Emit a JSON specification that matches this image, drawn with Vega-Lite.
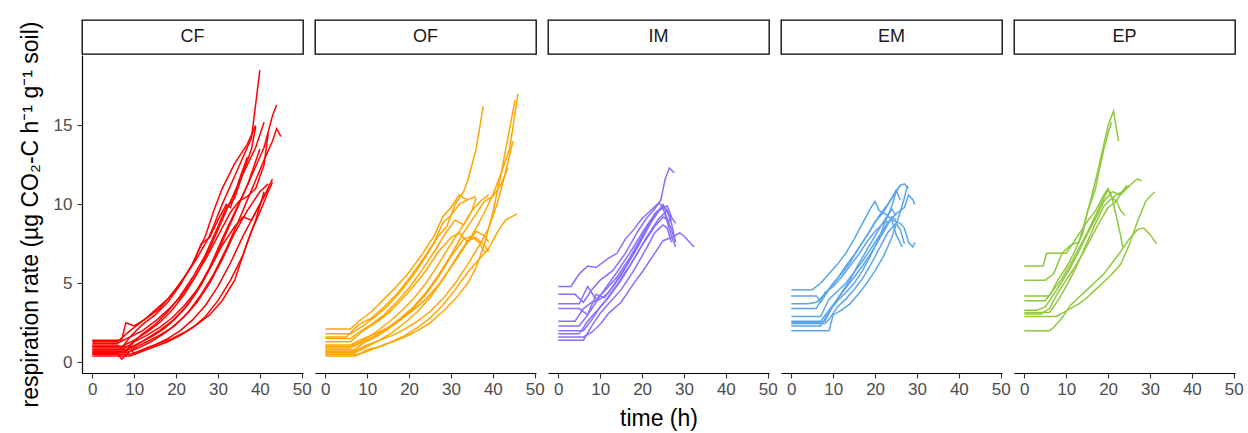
{
"$schema": "https://vega.github.io/schema/vega-lite/v6.json",
"padding": {"left": 19, "top": 19, "right": 5, "bottom": 0},
"background": "white",
"config": {
  "font": "Liberation Sans",
  "view": {"stroke": null},
  "axis": {"grid": false, "domainColor": "black", "domainWidth": 1.2, "tickColor": "#333333", "tickWidth": 1.1, "tickSize": 5, "labelColor": "#4D4D4D", "labelFontSize": 17, "labelFont": "Liberation Sans", "titleFont": "Liberation Sans", "titleFontSize": 23, "titleFontWeight": "normal", "titleColor": "black"},
  "line": {"strokeWidth": 1.5}
},
"spacing": -40,
"vconcat": [
{
 "data": {"values": [{"g":"CF"},{"g":"OF"},{"g":"IM"},{"g":"EM"},{"g":"EP"}]},
 "facet": {"column": {"field": "g", "type": "nominal", "sort": ["CF","OF","IM","EM","EP"], "header": null}},
 "spacing": 12,
 "bounds": "flush",
 "spec": {
   "width": 221, "height": 34,
   "view": {"stroke": "black", "strokeWidth": 1.3, "fill": "white"},
   "mark": {"type": "text", "fontSize": 18, "color": "#1A1A1A", "baseline": "middle", "align": "center"},
   "encoding": {
     "text": {"field": "g", "type": "nominal"},
     "y": {"datum": 10, "type": "quantitative", "scale": {"domain": [0, 20]}, "axis": {"values": [10], "title": " ", "labelColor": "transparent", "tickColor": "transparent", "domain": false, "labelPadding": 5, "titlePadding": 11}}
   }
 }
},
{
 "data": {"values": [
{"g":"CF","id":1,"t":0,"r":1.4},{"g":"CF","id":1,"t":7,"r":1.4},{"g":"CF","id":1,"t":8,"r":2.5},{"g":"CF","id":1,"t":10,"r":2.3},{"g":"CF","id":1,"t":13,"r":2.8},{"g":"CF","id":1,"t":16,"r":3.4},{"g":"CF","id":1,"t":19,"r":4.3},{"g":"CF","id":1,"t":22,"r":5.4},{"g":"CF","id":1,"t":25,"r":6.6},{"g":"CF","id":1,"t":28,"r":8.0},{"g":"CF","id":1,"t":31,"r":10.0},{"g":"CF","id":1,"t":34,"r":11.8},{"g":"CF","id":1,"t":36,"r":13.0},{"g":"CF","id":1,"t":38,"r":14.2},{"g":"CF","id":1,"t":40,"r":18.5},
{"g":"CF","id":2,"t":0,"r":1.2},{"g":"CF","id":2,"t":6,"r":1.2},{"g":"CF","id":2,"t":9,"r":1.6},{"g":"CF","id":2,"t":12,"r":2.4},{"g":"CF","id":2,"t":15,"r":3.0},{"g":"CF","id":2,"t":18,"r":3.8},{"g":"CF","id":2,"t":21,"r":4.9},{"g":"CF","id":2,"t":24,"r":6.3},{"g":"CF","id":2,"t":27,"r":8.0},{"g":"CF","id":2,"t":29,"r":9.6},{"g":"CF","id":2,"t":31,"r":11.0},{"g":"CF","id":2,"t":34,"r":12.6},{"g":"CF","id":2,"t":37,"r":13.8},{"g":"CF","id":2,"t":39,"r":15.0},
{"g":"CF","id":3,"t":0,"r":1.0},{"g":"CF","id":3,"t":7,"r":1.0},{"g":"CF","id":3,"t":10,"r":1.4},{"g":"CF","id":3,"t":13,"r":1.9},{"g":"CF","id":3,"t":16,"r":2.5},{"g":"CF","id":3,"t":19,"r":3.3},{"g":"CF","id":3,"t":22,"r":4.3},{"g":"CF","id":3,"t":25,"r":5.6},{"g":"CF","id":3,"t":28,"r":7.2},{"g":"CF","id":3,"t":31,"r":9.0},{"g":"CF","id":3,"t":34,"r":10.8},{"g":"CF","id":3,"t":37,"r":12.5},{"g":"CF","id":3,"t":39,"r":13.6},{"g":"CF","id":3,"t":41,"r":15.2},
{"g":"CF","id":4,"t":0,"r":0.8},{"g":"CF","id":4,"t":8,"r":0.8},{"g":"CF","id":4,"t":11,"r":1.2},{"g":"CF","id":4,"t":14,"r":1.6},{"g":"CF","id":4,"t":17,"r":2.1},{"g":"CF","id":4,"t":20,"r":2.8},{"g":"CF","id":4,"t":23,"r":3.7},{"g":"CF","id":4,"t":26,"r":4.9},{"g":"CF","id":4,"t":29,"r":6.4},{"g":"CF","id":4,"t":32,"r":8.2},{"g":"CF","id":4,"t":35,"r":10.0},{"g":"CF","id":4,"t":38,"r":11.8},{"g":"CF","id":4,"t":41,"r":13.6},{"g":"CF","id":4,"t":43,"r":15.6},{"g":"CF","id":4,"t":44,"r":16.3},
{"g":"CF","id":5,"t":0,"r":0.6},{"g":"CF","id":5,"t":8,"r":0.6},{"g":"CF","id":5,"t":11,"r":0.9},{"g":"CF","id":5,"t":14,"r":1.3},{"g":"CF","id":5,"t":17,"r":1.8},{"g":"CF","id":5,"t":20,"r":2.4},{"g":"CF","id":5,"t":23,"r":3.2},{"g":"CF","id":5,"t":26,"r":4.3},{"g":"CF","id":5,"t":29,"r":5.6},{"g":"CF","id":5,"t":32,"r":7.2},{"g":"CF","id":5,"t":35,"r":9.0},{"g":"CF","id":5,"t":38,"r":10.9},{"g":"CF","id":5,"t":41,"r":12.8},{"g":"CF","id":5,"t":43,"r":14.0},{"g":"CF","id":5,"t":44,"r":14.8},{"g":"CF","id":5,"t":45,"r":14.3},
{"g":"CF","id":6,"t":0,"r":0.5},{"g":"CF","id":6,"t":9,"r":0.5},{"g":"CF","id":6,"t":12,"r":0.8},{"g":"CF","id":6,"t":15,"r":1.1},{"g":"CF","id":6,"t":18,"r":1.5},{"g":"CF","id":6,"t":21,"r":2.0},{"g":"CF","id":6,"t":24,"r":2.7},{"g":"CF","id":6,"t":27,"r":3.6},{"g":"CF","id":6,"t":30,"r":4.8},{"g":"CF","id":6,"t":33,"r":6.3},{"g":"CF","id":6,"t":36,"r":8.0},{"g":"CF","id":6,"t":39,"r":9.5},{"g":"CF","id":6,"t":41,"r":10.5},{"g":"CF","id":6,"t":43,"r":11.6},
{"g":"CF","id":7,"t":0,"r":0.4},{"g":"CF","id":7,"t":9,"r":0.4},{"g":"CF","id":7,"t":12,"r":0.7},{"g":"CF","id":7,"t":15,"r":1.0},{"g":"CF","id":7,"t":18,"r":1.3},{"g":"CF","id":7,"t":21,"r":1.7},{"g":"CF","id":7,"t":24,"r":2.2},{"g":"CF","id":7,"t":27,"r":2.9},{"g":"CF","id":7,"t":30,"r":3.9},{"g":"CF","id":7,"t":33,"r":5.2},{"g":"CF","id":7,"t":36,"r":6.8},{"g":"CF","id":7,"t":38,"r":8.3},{"g":"CF","id":7,"t":40,"r":9.5},{"g":"CF","id":7,"t":42,"r":10.8},{"g":"CF","id":7,"t":43,"r":11.4},
{"g":"CF","id":8,"t":0,"r":1.3},{"g":"CF","id":8,"t":6,"r":1.3},{"g":"CF","id":8,"t":9,"r":2.0},{"g":"CF","id":8,"t":12,"r":2.6},{"g":"CF","id":8,"t":15,"r":3.3},{"g":"CF","id":8,"t":18,"r":4.0},{"g":"CF","id":8,"t":21,"r":5.0},{"g":"CF","id":8,"t":24,"r":6.2},{"g":"CF","id":8,"t":26,"r":7.5},{"g":"CF","id":8,"t":28,"r":7.9},{"g":"CF","id":8,"t":30,"r":9.0},{"g":"CF","id":8,"t":32,"r":10.0},{"g":"CF","id":8,"t":33,"r":9.8},{"g":"CF","id":8,"t":35,"r":11.5},{"g":"CF","id":8,"t":37,"r":13.0},
{"g":"CF","id":9,"t":0,"r":0.9},{"g":"CF","id":9,"t":7,"r":0.9},{"g":"CF","id":9,"t":9,"r":1.6},{"g":"CF","id":9,"t":12,"r":2.0},{"g":"CF","id":9,"t":15,"r":2.6},{"g":"CF","id":9,"t":18,"r":3.3},{"g":"CF","id":9,"t":21,"r":4.1},{"g":"CF","id":9,"t":24,"r":5.2},{"g":"CF","id":9,"t":27,"r":6.5},{"g":"CF","id":9,"t":30,"r":8.0},{"g":"CF","id":9,"t":33,"r":9.5},{"g":"CF","id":9,"t":35,"r":10.2},{"g":"CF","id":9,"t":37,"r":10.5},{"g":"CF","id":9,"t":39,"r":11.0},{"g":"CF","id":9,"t":41,"r":12.5},{"g":"CF","id":9,"t":42,"r":14.5},
{"g":"CF","id":10,"t":0,"r":0.7},{"g":"CF","id":10,"t":8,"r":0.7},{"g":"CF","id":10,"t":10,"r":1.3},{"g":"CF","id":10,"t":13,"r":1.7},{"g":"CF","id":10,"t":16,"r":2.2},{"g":"CF","id":10,"t":19,"r":2.8},{"g":"CF","id":10,"t":22,"r":3.6},{"g":"CF","id":10,"t":25,"r":4.6},{"g":"CF","id":10,"t":28,"r":5.9},{"g":"CF","id":10,"t":31,"r":7.4},{"g":"CF","id":10,"t":34,"r":8.6},{"g":"CF","id":10,"t":36,"r":9.2},{"g":"CF","id":10,"t":38,"r":9.0},{"g":"CF","id":10,"t":40,"r":10.0},{"g":"CF","id":10,"t":42,"r":11.0},
{"g":"CF","id":11,"t":0,"r":1.1},{"g":"CF","id":11,"t":6,"r":1.1},{"g":"CF","id":11,"t":8,"r":0.7},{"g":"CF","id":11,"t":10,"r":1.0},{"g":"CF","id":11,"t":13,"r":1.5},{"g":"CF","id":11,"t":16,"r":2.0},{"g":"CF","id":11,"t":19,"r":2.6},{"g":"CF","id":11,"t":22,"r":3.4},{"g":"CF","id":11,"t":25,"r":4.5},{"g":"CF","id":11,"t":28,"r":6.0},{"g":"CF","id":11,"t":31,"r":7.8},{"g":"CF","id":11,"t":34,"r":9.5},{"g":"CF","id":11,"t":37,"r":11.2},{"g":"CF","id":11,"t":40,"r":13.5},
{"g":"CF","id":12,"t":0,"r":0.55},{"g":"CF","id":12,"t":6,"r":0.55},{"g":"CF","id":12,"t":7,"r":0.2},{"g":"CF","id":12,"t":10,"r":0.9},{"g":"CF","id":12,"t":13,"r":1.3},{"g":"CF","id":12,"t":16,"r":1.7},{"g":"CF","id":12,"t":19,"r":2.2},{"g":"CF","id":12,"t":22,"r":2.9},{"g":"CF","id":12,"t":25,"r":3.8},{"g":"CF","id":12,"t":28,"r":5.0},{"g":"CF","id":12,"t":31,"r":6.5},{"g":"CF","id":12,"t":34,"r":8.2},{"g":"CF","id":12,"t":37,"r":9.6},{"g":"CF","id":12,"t":40,"r":10.8},{"g":"CF","id":12,"t":42,"r":11.3},
{"g":"CF","id":13,"t":0,"r":1.0},{"g":"CF","id":13,"t":9,"r":1.0},{"g":"CF","id":13,"t":10,"r":0.5},{"g":"CF","id":13,"t":13,"r":0.9},{"g":"CF","id":13,"t":16,"r":1.2},{"g":"CF","id":13,"t":19,"r":1.5},{"g":"CF","id":13,"t":22,"r":1.9},{"g":"CF","id":13,"t":25,"r":2.4},{"g":"CF","id":13,"t":28,"r":3.0},{"g":"CF","id":13,"t":31,"r":3.9},{"g":"CF","id":13,"t":34,"r":5.2},{"g":"CF","id":13,"t":37,"r":7.6},{"g":"CF","id":13,"t":39,"r":9.0},{"g":"CF","id":13,"t":41,"r":10.8},
{"g":"CF","id":14,"t":0,"r":0.8},{"g":"CF","id":14,"t":7,"r":0.8},{"g":"CF","id":14,"t":9,"r":1.1},{"g":"CF","id":14,"t":12,"r":1.8},{"g":"CF","id":14,"t":15,"r":2.4},{"g":"CF","id":14,"t":18,"r":3.2},{"g":"CF","id":14,"t":21,"r":4.2},{"g":"CF","id":14,"t":24,"r":5.4},{"g":"CF","id":14,"t":27,"r":6.8},{"g":"CF","id":14,"t":30,"r":8.6},{"g":"CF","id":14,"t":32,"r":9.8},{"g":"CF","id":14,"t":34,"r":10.4},{"g":"CF","id":14,"t":36,"r":12.0},{"g":"CF","id":14,"t":38,"r":13.5},{"g":"CF","id":14,"t":39,"r":14.9},
{"g":"OF","id":1,"t":0,"r":2.1},{"g":"OF","id":1,"t":6,"r":2.1},{"g":"OF","id":1,"t":8,"r":2.6},{"g":"OF","id":1,"t":11,"r":3.2},{"g":"OF","id":1,"t":14,"r":4.0},{"g":"OF","id":1,"t":17,"r":4.8},{"g":"OF","id":1,"t":20,"r":5.7},{"g":"OF","id":1,"t":23,"r":6.8},{"g":"OF","id":1,"t":26,"r":8.0},{"g":"OF","id":1,"t":28,"r":9.2},{"g":"OF","id":1,"t":30,"r":9.8},{"g":"OF","id":1,"t":32,"r":10.6},{"g":"OF","id":1,"t":33,"r":10.4},{"g":"OF","id":1,"t":34,"r":10.3},
{"g":"OF","id":2,"t":0,"r":1.8},{"g":"OF","id":2,"t":6,"r":1.8},{"g":"OF","id":2,"t":9,"r":2.3},{"g":"OF","id":2,"t":12,"r":2.9},{"g":"OF","id":2,"t":15,"r":3.6},{"g":"OF","id":2,"t":18,"r":4.5},{"g":"OF","id":2,"t":21,"r":5.5},{"g":"OF","id":2,"t":24,"r":6.7},{"g":"OF","id":2,"t":27,"r":8.0},{"g":"OF","id":2,"t":29,"r":8.6},{"g":"OF","id":2,"t":31,"r":10.0},{"g":"OF","id":2,"t":33,"r":10.8},{"g":"OF","id":2,"t":34,"r":11.5},{"g":"OF","id":2,"t":36,"r":13.5},{"g":"OF","id":2,"t":37.7,"r":16.2},
{"g":"OF","id":3,"t":0,"r":1.5},{"g":"OF","id":3,"t":6,"r":1.5},{"g":"OF","id":3,"t":8,"r":1.9},{"g":"OF","id":3,"t":11,"r":2.4},{"g":"OF","id":3,"t":14,"r":3.0},{"g":"OF","id":3,"t":17,"r":3.8},{"g":"OF","id":3,"t":20,"r":4.7},{"g":"OF","id":3,"t":23,"r":5.8},{"g":"OF","id":3,"t":26,"r":7.0},{"g":"OF","id":3,"t":29,"r":8.3},{"g":"OF","id":3,"t":31,"r":9.0},{"g":"OF","id":3,"t":33,"r":8.7},{"g":"OF","id":3,"t":35,"r":9.6},{"g":"OF","id":3,"t":36,"r":10.4},
{"g":"OF","id":4,"t":0,"r":1.3},{"g":"OF","id":4,"t":6,"r":1.3},{"g":"OF","id":4,"t":9,"r":2.0},{"g":"OF","id":4,"t":12,"r":2.5},{"g":"OF","id":4,"t":15,"r":3.1},{"g":"OF","id":4,"t":18,"r":3.9},{"g":"OF","id":4,"t":21,"r":4.8},{"g":"OF","id":4,"t":24,"r":5.8},{"g":"OF","id":4,"t":27,"r":7.0},{"g":"OF","id":4,"t":30,"r":7.9},{"g":"OF","id":4,"t":32,"r":8.2},{"g":"OF","id":4,"t":34,"r":7.6},{"g":"OF","id":4,"t":36,"r":8.3},{"g":"OF","id":4,"t":38,"r":8.0},{"g":"OF","id":4,"t":39,"r":7.6},
{"g":"OF","id":5,"t":0,"r":1.0},{"g":"OF","id":5,"t":6,"r":1.0},{"g":"OF","id":5,"t":9,"r":1.4},{"g":"OF","id":5,"t":12,"r":1.9},{"g":"OF","id":5,"t":15,"r":2.5},{"g":"OF","id":5,"t":18,"r":3.2},{"g":"OF","id":5,"t":21,"r":4.0},{"g":"OF","id":5,"t":24,"r":5.0},{"g":"OF","id":5,"t":27,"r":6.2},{"g":"OF","id":5,"t":30,"r":7.5},{"g":"OF","id":5,"t":33,"r":8.7},{"g":"OF","id":5,"t":35,"r":9.6},{"g":"OF","id":5,"t":37,"r":10.2},{"g":"OF","id":5,"t":39,"r":10.6},
{"g":"OF","id":6,"t":0,"r":0.8},{"g":"OF","id":6,"t":7,"r":0.8},{"g":"OF","id":6,"t":9,"r":1.2},{"g":"OF","id":6,"t":12,"r":1.6},{"g":"OF","id":6,"t":15,"r":2.1},{"g":"OF","id":6,"t":18,"r":2.7},{"g":"OF","id":6,"t":21,"r":3.4},{"g":"OF","id":6,"t":24,"r":4.3},{"g":"OF","id":6,"t":27,"r":5.4},{"g":"OF","id":6,"t":30,"r":6.7},{"g":"OF","id":6,"t":33,"r":7.8},{"g":"OF","id":6,"t":35,"r":8.0},{"g":"OF","id":6,"t":37,"r":7.5},{"g":"OF","id":6,"t":38,"r":7.0},
{"g":"OF","id":7,"t":0,"r":0.6},{"g":"OF","id":7,"t":7,"r":0.6},{"g":"OF","id":7,"t":10,"r":1.0},{"g":"OF","id":7,"t":13,"r":1.4},{"g":"OF","id":7,"t":16,"r":1.9},{"g":"OF","id":7,"t":19,"r":2.5},{"g":"OF","id":7,"t":22,"r":3.2},{"g":"OF","id":7,"t":25,"r":4.1},{"g":"OF","id":7,"t":28,"r":5.2},{"g":"OF","id":7,"t":31,"r":6.5},{"g":"OF","id":7,"t":34,"r":7.7},{"g":"OF","id":7,"t":36,"r":7.9},{"g":"OF","id":7,"t":38,"r":7.4},{"g":"OF","id":7,"t":39,"r":7.0},
{"g":"OF","id":8,"t":0,"r":0.4},{"g":"OF","id":8,"t":7,"r":0.4},{"g":"OF","id":8,"t":10,"r":0.7},{"g":"OF","id":8,"t":13,"r":1.0},{"g":"OF","id":8,"t":16,"r":1.3},{"g":"OF","id":8,"t":19,"r":1.7},{"g":"OF","id":8,"t":22,"r":2.2},{"g":"OF","id":8,"t":25,"r":2.8},{"g":"OF","id":8,"t":28,"r":3.6},{"g":"OF","id":8,"t":31,"r":4.6},{"g":"OF","id":8,"t":34,"r":5.7},{"g":"OF","id":8,"t":37,"r":6.6},{"g":"OF","id":8,"t":39,"r":7.2},{"g":"OF","id":8,"t":41,"r":8.2},{"g":"OF","id":8,"t":43,"r":9.0},{"g":"OF","id":8,"t":45.8,"r":9.4},
{"g":"OF","id":9,"t":0,"r":1.6},{"g":"OF","id":9,"t":5,"r":1.6},{"g":"OF","id":9,"t":8,"r":2.4},{"g":"OF","id":9,"t":11,"r":2.8},{"g":"OF","id":9,"t":14,"r":3.5},{"g":"OF","id":9,"t":17,"r":4.3},{"g":"OF","id":9,"t":20,"r":5.3},{"g":"OF","id":9,"t":23,"r":6.4},{"g":"OF","id":9,"t":26,"r":7.6},{"g":"OF","id":9,"t":28,"r":8.8},{"g":"OF","id":9,"t":30,"r":9.3},{"g":"OF","id":9,"t":32,"r":10.0},{"g":"OF","id":9,"t":34,"r":10.3},{"g":"OF","id":9,"t":36,"r":10.5},
{"g":"OF","id":10,"t":0,"r":1.1},{"g":"OF","id":10,"t":6,"r":1.1},{"g":"OF","id":10,"t":9,"r":1.5},{"g":"OF","id":10,"t":12,"r":1.8},{"g":"OF","id":10,"t":15,"r":2.2},{"g":"OF","id":10,"t":18,"r":2.7},{"g":"OF","id":10,"t":21,"r":3.3},{"g":"OF","id":10,"t":24,"r":4.0},{"g":"OF","id":10,"t":27,"r":4.9},{"g":"OF","id":10,"t":30,"r":6.0},{"g":"OF","id":10,"t":33,"r":7.2},{"g":"OF","id":10,"t":36,"r":8.5},{"g":"OF","id":10,"t":38,"r":9.5},{"g":"OF","id":10,"t":40,"r":10.6},{"g":"OF","id":10,"t":42,"r":12.0},{"g":"OF","id":10,"t":44,"r":13.5},{"g":"OF","id":10,"t":46,"r":17.0},
{"g":"OF","id":11,"t":0,"r":0.7},{"g":"OF","id":11,"t":7,"r":0.7},{"g":"OF","id":11,"t":10,"r":1.1},{"g":"OF","id":11,"t":13,"r":1.4},{"g":"OF","id":11,"t":16,"r":1.7},{"g":"OF","id":11,"t":19,"r":2.1},{"g":"OF","id":11,"t":22,"r":2.6},{"g":"OF","id":11,"t":25,"r":3.2},{"g":"OF","id":11,"t":28,"r":4.0},{"g":"OF","id":11,"t":31,"r":5.0},{"g":"OF","id":11,"t":34,"r":6.2},{"g":"OF","id":11,"t":37,"r":7.5},{"g":"OF","id":11,"t":39,"r":8.5},{"g":"OF","id":11,"t":41,"r":10.0},{"g":"OF","id":11,"t":43,"r":12.0},{"g":"OF","id":11,"t":44.8,"r":14.0},
{"g":"OF","id":12,"t":0,"r":0.5},{"g":"OF","id":12,"t":8,"r":0.5},{"g":"OF","id":12,"t":10,"r":0.8},{"g":"OF","id":12,"t":13,"r":1.0},{"g":"OF","id":12,"t":16,"r":1.3},{"g":"OF","id":12,"t":19,"r":1.6},{"g":"OF","id":12,"t":22,"r":2.0},{"g":"OF","id":12,"t":25,"r":2.5},{"g":"OF","id":12,"t":28,"r":3.2},{"g":"OF","id":12,"t":31,"r":4.0},{"g":"OF","id":12,"t":34,"r":5.0},{"g":"OF","id":12,"t":36,"r":6.0},{"g":"OF","id":12,"t":38,"r":7.5},{"g":"OF","id":12,"t":40,"r":9.5},{"g":"OF","id":12,"t":42,"r":12.0},{"g":"OF","id":12,"t":44,"r":14.8},{"g":"OF","id":12,"t":45.3,"r":16.6},
{"g":"OF","id":13,"t":0,"r":0.9},{"g":"OF","id":13,"t":6,"r":0.9},{"g":"OF","id":13,"t":9,"r":1.3},{"g":"OF","id":13,"t":12,"r":1.7},{"g":"OF","id":13,"t":15,"r":2.2},{"g":"OF","id":13,"t":18,"r":2.8},{"g":"OF","id":13,"t":21,"r":3.5},{"g":"OF","id":13,"t":24,"r":4.4},{"g":"OF","id":13,"t":27,"r":5.5},{"g":"OF","id":13,"t":30,"r":6.8},{"g":"OF","id":13,"t":33,"r":8.2},{"g":"OF","id":13,"t":36,"r":9.4},{"g":"OF","id":13,"t":38,"r":10.2},{"g":"OF","id":13,"t":40,"r":10.5},{"g":"OF","id":13,"t":42,"r":11.3},{"g":"OF","id":13,"t":43.6,"r":12.3},
{"g":"IM","id":1,"t":0,"r":4.8},{"g":"IM","id":1,"t":3,"r":4.8},{"g":"IM","id":1,"t":5,"r":5.6},{"g":"IM","id":1,"t":7,"r":6.1},{"g":"IM","id":1,"t":9,"r":6.0},{"g":"IM","id":1,"t":12,"r":6.6},{"g":"IM","id":1,"t":14,"r":6.9},{"g":"IM","id":1,"t":16,"r":7.8},{"g":"IM","id":1,"t":18,"r":8.4},{"g":"IM","id":1,"t":20,"r":9.1},{"g":"IM","id":1,"t":22,"r":9.6},{"g":"IM","id":1,"t":24,"r":10.1},{"g":"IM","id":1,"t":25,"r":9.8},{"g":"IM","id":1,"t":27,"r":8.4},{"g":"IM","id":1,"t":28,"r":7.6},
{"g":"IM","id":2,"t":0,"r":4.3},{"g":"IM","id":2,"t":4,"r":4.3},{"g":"IM","id":2,"t":6,"r":3.8},{"g":"IM","id":2,"t":8,"r":4.6},{"g":"IM","id":2,"t":10,"r":5.2},{"g":"IM","id":2,"t":13,"r":5.8},{"g":"IM","id":2,"t":16,"r":6.9},{"g":"IM","id":2,"t":19,"r":8.3},{"g":"IM","id":2,"t":21,"r":9.1},{"g":"IM","id":2,"t":23,"r":9.7},{"g":"IM","id":2,"t":24.5,"r":10.3},{"g":"IM","id":2,"t":25.5,"r":11.6},{"g":"IM","id":2,"t":26.5,"r":12.3},{"g":"IM","id":2,"t":27.7,"r":12.0},
{"g":"IM","id":3,"t":0,"r":3.7},{"g":"IM","id":3,"t":5,"r":3.7},{"g":"IM","id":3,"t":7,"r":4.8},{"g":"IM","id":3,"t":9,"r":4.0},{"g":"IM","id":3,"t":11,"r":4.5},{"g":"IM","id":3,"t":14,"r":5.4},{"g":"IM","id":3,"t":17,"r":6.6},{"g":"IM","id":3,"t":20,"r":8.0},{"g":"IM","id":3,"t":23,"r":9.4},{"g":"IM","id":3,"t":25,"r":9.9},{"g":"IM","id":3,"t":26,"r":9.6},{"g":"IM","id":3,"t":27,"r":8.8},{"g":"IM","id":3,"t":28,"r":7.6},
{"g":"IM","id":4,"t":0,"r":3.4},{"g":"IM","id":4,"t":5,"r":3.4},{"g":"IM","id":4,"t":7,"r":3.0},{"g":"IM","id":4,"t":9,"r":3.8},{"g":"IM","id":4,"t":11,"r":4.6},{"g":"IM","id":4,"t":14,"r":5.7},{"g":"IM","id":4,"t":17,"r":6.9},{"g":"IM","id":4,"t":20,"r":8.2},{"g":"IM","id":4,"t":22,"r":9.0},{"g":"IM","id":4,"t":24,"r":9.6},{"g":"IM","id":4,"t":26,"r":9.9},{"g":"IM","id":4,"t":27,"r":9.2},
{"g":"IM","id":5,"t":0,"r":2.6},{"g":"IM","id":5,"t":4,"r":2.6},{"g":"IM","id":5,"t":6,"r":3.4},{"g":"IM","id":5,"t":8,"r":3.8},{"g":"IM","id":5,"t":10,"r":4.0},{"g":"IM","id":5,"t":12,"r":4.4},{"g":"IM","id":5,"t":15,"r":5.5},{"g":"IM","id":5,"t":18,"r":6.9},{"g":"IM","id":5,"t":21,"r":8.4},{"g":"IM","id":5,"t":24,"r":9.6},{"g":"IM","id":5,"t":25,"r":9.8},{"g":"IM","id":5,"t":27,"r":8.0},{"g":"IM","id":5,"t":28,"r":7.3},
{"g":"IM","id":6,"t":0,"r":2.0},{"g":"IM","id":6,"t":6,"r":2.0},{"g":"IM","id":6,"t":8,"r":2.7},{"g":"IM","id":6,"t":10,"r":3.5},{"g":"IM","id":6,"t":12,"r":4.1},{"g":"IM","id":6,"t":15,"r":5.2},{"g":"IM","id":6,"t":18,"r":6.5},{"g":"IM","id":6,"t":21,"r":7.9},{"g":"IM","id":6,"t":24,"r":9.1},{"g":"IM","id":6,"t":26,"r":9.6},{"g":"IM","id":6,"t":28,"r":8.8},
{"g":"IM","id":7,"t":0,"r":1.8},{"g":"IM","id":7,"t":5,"r":1.8},{"g":"IM","id":7,"t":7,"r":2.6},{"g":"IM","id":7,"t":9,"r":3.2},{"g":"IM","id":7,"t":11,"r":3.8},{"g":"IM","id":7,"t":14,"r":4.9},{"g":"IM","id":7,"t":17,"r":6.1},{"g":"IM","id":7,"t":20,"r":7.4},{"g":"IM","id":7,"t":23,"r":8.6},{"g":"IM","id":7,"t":25,"r":9.2},{"g":"IM","id":7,"t":27,"r":8.9},
{"g":"IM","id":8,"t":0,"r":1.6},{"g":"IM","id":8,"t":6,"r":1.6},{"g":"IM","id":8,"t":8,"r":1.9},{"g":"IM","id":8,"t":10,"r":2.4},{"g":"IM","id":8,"t":12,"r":3.1},{"g":"IM","id":8,"t":15,"r":3.8},{"g":"IM","id":8,"t":18,"r":5.0},{"g":"IM","id":8,"t":20,"r":5.7},{"g":"IM","id":8,"t":23,"r":6.9},{"g":"IM","id":8,"t":25,"r":7.7},{"g":"IM","id":8,"t":27,"r":7.9},{"g":"IM","id":8,"t":29,"r":8.2},{"g":"IM","id":8,"t":30,"r":8.0},{"g":"IM","id":8,"t":32.4,"r":7.3},
{"g":"IM","id":9,"t":0,"r":1.4},{"g":"IM","id":9,"t":6,"r":1.4},{"g":"IM","id":9,"t":8,"r":2.3},{"g":"IM","id":9,"t":10,"r":3.1},{"g":"IM","id":9,"t":12,"r":3.7},{"g":"IM","id":9,"t":15,"r":4.6},{"g":"IM","id":9,"t":18,"r":5.8},{"g":"IM","id":9,"t":21,"r":7.2},{"g":"IM","id":9,"t":23,"r":8.2},{"g":"IM","id":9,"t":25,"r":8.7},{"g":"IM","id":9,"t":26,"r":8.5},{"g":"IM","id":9,"t":27,"r":7.6},
{"g":"IM","id":10,"t":0,"r":2.3},{"g":"IM","id":10,"t":5,"r":2.3},{"g":"IM","id":10,"t":7,"r":3.0},{"g":"IM","id":10,"t":9,"r":4.3},{"g":"IM","id":10,"t":11,"r":4.1},{"g":"IM","id":10,"t":13,"r":4.8},{"g":"IM","id":10,"t":16,"r":6.0},{"g":"IM","id":10,"t":19,"r":7.3},{"g":"IM","id":10,"t":22,"r":8.8},{"g":"IM","id":10,"t":24,"r":9.6},{"g":"IM","id":10,"t":25,"r":10.0},{"g":"IM","id":10,"t":26,"r":9.5},{"g":"IM","id":10,"t":27,"r":9.0},
{"g":"EM","id":1,"t":0,"r":4.6},{"g":"EM","id":1,"t":5,"r":4.6},{"g":"EM","id":1,"t":7,"r":5.0},{"g":"EM","id":1,"t":9,"r":5.6},{"g":"EM","id":1,"t":11,"r":6.2},{"g":"EM","id":1,"t":13,"r":6.9},{"g":"EM","id":1,"t":15,"r":7.8},{"g":"EM","id":1,"t":17,"r":8.8},{"g":"EM","id":1,"t":19,"r":9.8},{"g":"EM","id":1,"t":20,"r":10.2},{"g":"EM","id":1,"t":21,"r":9.6},{"g":"EM","id":1,"t":23,"r":9.3},{"g":"EM","id":1,"t":24,"r":9.0},{"g":"EM","id":1,"t":25,"r":8.1},{"g":"EM","id":1,"t":26.5,"r":7.3},
{"g":"EM","id":2,"t":0,"r":4.2},{"g":"EM","id":2,"t":6,"r":4.2},{"g":"EM","id":2,"t":7,"r":3.8},{"g":"EM","id":2,"t":9,"r":4.6},{"g":"EM","id":2,"t":11,"r":5.3},{"g":"EM","id":2,"t":13,"r":6.1},{"g":"EM","id":2,"t":15,"r":6.8},{"g":"EM","id":2,"t":17,"r":7.6},{"g":"EM","id":2,"t":19,"r":8.4},{"g":"EM","id":2,"t":21,"r":9.3},{"g":"EM","id":2,"t":23,"r":10.0},{"g":"EM","id":2,"t":25,"r":10.8},{"g":"EM","id":2,"t":26,"r":11.2},{"g":"EM","id":2,"t":27,"r":11.3},{"g":"EM","id":2,"t":28,"r":11.0},
{"g":"EM","id":3,"t":0,"r":3.7},{"g":"EM","id":3,"t":4,"r":3.7},{"g":"EM","id":3,"t":6,"r":3.8},{"g":"EM","id":3,"t":8,"r":4.3},{"g":"EM","id":3,"t":10,"r":5.0},{"g":"EM","id":3,"t":12,"r":5.6},{"g":"EM","id":3,"t":14,"r":6.3},{"g":"EM","id":3,"t":16,"r":7.2},{"g":"EM","id":3,"t":18,"r":8.0},{"g":"EM","id":3,"t":20,"r":8.9},{"g":"EM","id":3,"t":22,"r":9.5},{"g":"EM","id":3,"t":24,"r":10.4},{"g":"EM","id":3,"t":25,"r":10.9},{"g":"EM","id":3,"t":26,"r":10.3},
{"g":"EM","id":4,"t":0,"r":3.4},{"g":"EM","id":4,"t":6,"r":3.4},{"g":"EM","id":4,"t":8,"r":4.4},{"g":"EM","id":4,"t":10,"r":4.8},{"g":"EM","id":4,"t":12,"r":5.4},{"g":"EM","id":4,"t":14,"r":6.1},{"g":"EM","id":4,"t":16,"r":6.8},{"g":"EM","id":4,"t":18,"r":7.6},{"g":"EM","id":4,"t":20,"r":8.3},{"g":"EM","id":4,"t":22,"r":8.8},{"g":"EM","id":4,"t":24,"r":9.0},{"g":"EM","id":4,"t":26,"r":8.8},{"g":"EM","id":4,"t":27,"r":8.5},{"g":"EM","id":4,"t":28,"r":7.6},{"g":"EM","id":4,"t":29,"r":7.3},{"g":"EM","id":4,"t":29.5,"r":7.6},
{"g":"EM","id":5,"t":0,"r":2.9},{"g":"EM","id":5,"t":7,"r":2.9},{"g":"EM","id":5,"t":9,"r":4.0},{"g":"EM","id":5,"t":11,"r":4.5},{"g":"EM","id":5,"t":13,"r":5.0},{"g":"EM","id":5,"t":15,"r":5.7},{"g":"EM","id":5,"t":17,"r":6.4},{"g":"EM","id":5,"t":19,"r":7.2},{"g":"EM","id":5,"t":21,"r":8.0},{"g":"EM","id":5,"t":23,"r":8.8},{"g":"EM","id":5,"t":25,"r":9.4},{"g":"EM","id":5,"t":27,"r":9.8},{"g":"EM","id":5,"t":28,"r":10.6},{"g":"EM","id":5,"t":29,"r":10.3},{"g":"EM","id":5,"t":29.5,"r":10.0},
{"g":"EM","id":6,"t":0,"r":2.6},{"g":"EM","id":6,"t":7,"r":2.6},{"g":"EM","id":6,"t":9,"r":3.3},{"g":"EM","id":6,"t":11,"r":4.0},{"g":"EM","id":6,"t":13,"r":4.7},{"g":"EM","id":6,"t":15,"r":5.4},{"g":"EM","id":6,"t":17,"r":6.1},{"g":"EM","id":6,"t":19,"r":6.9},{"g":"EM","id":6,"t":21,"r":7.8},{"g":"EM","id":6,"t":23,"r":8.7},{"g":"EM","id":6,"t":24,"r":9.2},{"g":"EM","id":6,"t":25,"r":9.0},
{"g":"EM","id":7,"t":0,"r":2.5},{"g":"EM","id":7,"t":6,"r":2.5},{"g":"EM","id":7,"t":8,"r":2.6},{"g":"EM","id":7,"t":10,"r":3.6},{"g":"EM","id":7,"t":12,"r":4.4},{"g":"EM","id":7,"t":14,"r":5.2},{"g":"EM","id":7,"t":16,"r":6.2},{"g":"EM","id":7,"t":18,"r":7.1},{"g":"EM","id":7,"t":20,"r":8.0},{"g":"EM","id":7,"t":22,"r":8.9},{"g":"EM","id":7,"t":24,"r":9.7},{"g":"EM","id":7,"t":25,"r":9.3},
{"g":"EM","id":8,"t":0,"r":2.0},{"g":"EM","id":8,"t":9,"r":2.0},{"g":"EM","id":8,"t":10,"r":3.0},{"g":"EM","id":8,"t":12,"r":3.3},{"g":"EM","id":8,"t":14,"r":3.7},{"g":"EM","id":8,"t":16,"r":4.3},{"g":"EM","id":8,"t":18,"r":5.0},{"g":"EM","id":8,"t":20,"r":5.8},{"g":"EM","id":8,"t":22,"r":6.7},{"g":"EM","id":8,"t":24,"r":7.9},{"g":"EM","id":8,"t":26,"r":9.5},{"g":"EM","id":8,"t":27,"r":10.4},{"g":"EM","id":8,"t":27.7,"r":11.2},
{"g":"EM","id":9,"t":0,"r":2.45},{"g":"EM","id":9,"t":8,"r":2.45},{"g":"EM","id":9,"t":9,"r":2.7},{"g":"EM","id":9,"t":11,"r":3.5},{"g":"EM","id":9,"t":13,"r":4.0},{"g":"EM","id":9,"t":15,"r":4.6},{"g":"EM","id":9,"t":17,"r":5.3},{"g":"EM","id":9,"t":19,"r":6.2},{"g":"EM","id":9,"t":21,"r":7.2},{"g":"EM","id":9,"t":23,"r":8.2},{"g":"EM","id":9,"t":25,"r":8.8},{"g":"EM","id":9,"t":26,"r":8.4},{"g":"EM","id":9,"t":27,"r":7.5},
{"g":"EM","id":10,"t":0,"r":2.3},{"g":"EM","id":10,"t":7,"r":2.3},{"g":"EM","id":10,"t":9,"r":3.2},{"g":"EM","id":10,"t":11,"r":3.9},{"g":"EM","id":10,"t":13,"r":4.4},{"g":"EM","id":10,"t":15,"r":5.0},{"g":"EM","id":10,"t":17,"r":5.8},{"g":"EM","id":10,"t":19,"r":6.8},{"g":"EM","id":10,"t":21,"r":7.9},{"g":"EM","id":10,"t":22,"r":8.6},{"g":"EM","id":10,"t":24,"r":9.9},{"g":"EM","id":10,"t":25,"r":10.8},{"g":"EM","id":10,"t":26,"r":11.2},
{"g":"EP","id":1,"t":0,"r":6.1},{"g":"EP","id":1,"t":4.5,"r":6.1},{"g":"EP","id":1,"t":5.3,"r":6.9},{"g":"EP","id":1,"t":8,"r":6.9},{"g":"EP","id":1,"t":10,"r":6.9},{"g":"EP","id":1,"t":11,"r":7.3},{"g":"EP","id":1,"t":13,"r":8.1},{"g":"EP","id":1,"t":15,"r":8.9},{"g":"EP","id":1,"t":17,"r":9.6},{"g":"EP","id":1,"t":19,"r":10.6},{"g":"EP","id":1,"t":20,"r":11.0},{"g":"EP","id":1,"t":21,"r":10.4},{"g":"EP","id":1,"t":22,"r":10.6},{"g":"EP","id":1,"t":24,"r":10.9},{"g":"EP","id":1,"t":26,"r":11.4},{"g":"EP","id":1,"t":27,"r":11.6},{"g":"EP","id":1,"t":28,"r":11.5},
{"g":"EP","id":2,"t":0,"r":5.2},{"g":"EP","id":2,"t":5,"r":5.2},{"g":"EP","id":2,"t":7,"r":5.6},{"g":"EP","id":2,"t":9,"r":6.9},{"g":"EP","id":2,"t":11,"r":7.4},{"g":"EP","id":2,"t":13,"r":7.6},{"g":"EP","id":2,"t":15,"r":9.4},{"g":"EP","id":2,"t":17,"r":11.5},{"g":"EP","id":2,"t":19,"r":13.8},{"g":"EP","id":2,"t":20,"r":15.0},{"g":"EP","id":2,"t":21.3,"r":15.9},{"g":"EP","id":2,"t":22.5,"r":14.0},
{"g":"EP","id":3,"t":0,"r":4.2},{"g":"EP","id":3,"t":6,"r":4.2},{"g":"EP","id":3,"t":8,"r":5.2},{"g":"EP","id":3,"t":10,"r":6.0},{"g":"EP","id":3,"t":12,"r":7.0},{"g":"EP","id":3,"t":14,"r":8.2},{"g":"EP","id":3,"t":15,"r":9.5},{"g":"EP","id":3,"t":16,"r":10.2},{"g":"EP","id":3,"t":17,"r":11.0},{"g":"EP","id":3,"t":18,"r":12.3},{"g":"EP","id":3,"t":19,"r":13.5},{"g":"EP","id":3,"t":20,"r":14.5},{"g":"EP","id":3,"t":20.8,"r":15.2},
{"g":"EP","id":4,"t":0,"r":3.9},{"g":"EP","id":4,"t":5,"r":3.9},{"g":"EP","id":4,"t":7,"r":4.6},{"g":"EP","id":4,"t":9,"r":5.3},{"g":"EP","id":4,"t":11,"r":6.2},{"g":"EP","id":4,"t":13,"r":7.2},{"g":"EP","id":4,"t":15,"r":8.2},{"g":"EP","id":4,"t":17,"r":9.3},{"g":"EP","id":4,"t":19,"r":10.4},{"g":"EP","id":4,"t":20,"r":10.9},{"g":"EP","id":4,"t":21,"r":10.4},{"g":"EP","id":4,"t":22,"r":9.2},{"g":"EP","id":4,"t":23,"r":8.0},{"g":"EP","id":4,"t":23.5,"r":7.3},
{"g":"EP","id":5,"t":0,"r":3.3},{"g":"EP","id":5,"t":3,"r":3.3},{"g":"EP","id":5,"t":5,"r":3.5},{"g":"EP","id":5,"t":7,"r":4.3},{"g":"EP","id":5,"t":9,"r":5.1},{"g":"EP","id":5,"t":11,"r":6.0},{"g":"EP","id":5,"t":13,"r":7.0},{"g":"EP","id":5,"t":15,"r":8.1},{"g":"EP","id":5,"t":17,"r":9.1},{"g":"EP","id":5,"t":19,"r":10.2},{"g":"EP","id":5,"t":21,"r":10.8},{"g":"EP","id":5,"t":23,"r":10.6},{"g":"EP","id":5,"t":24,"r":10.9},{"g":"EP","id":5,"t":25,"r":11.2},
{"g":"EP","id":6,"t":0,"r":3.05},{"g":"EP","id":6,"t":4,"r":3.05},{"g":"EP","id":6,"t":6,"r":3.4},{"g":"EP","id":6,"t":8,"r":4.4},{"g":"EP","id":6,"t":10,"r":5.2},{"g":"EP","id":6,"t":12,"r":6.0},{"g":"EP","id":6,"t":14,"r":6.9},{"g":"EP","id":6,"t":16,"r":7.9},{"g":"EP","id":6,"t":18,"r":8.9},{"g":"EP","id":6,"t":20,"r":9.8},{"g":"EP","id":6,"t":22,"r":10.2},{"g":"EP","id":6,"t":23,"r":9.6},{"g":"EP","id":6,"t":24,"r":9.3},
{"g":"EP","id":7,"t":0,"r":2.9},{"g":"EP","id":7,"t":7.6,"r":2.9},{"g":"EP","id":7,"t":9,"r":3.1},{"g":"EP","id":7,"t":11,"r":3.4},{"g":"EP","id":7,"t":13,"r":3.7},{"g":"EP","id":7,"t":15,"r":4.1},{"g":"EP","id":7,"t":17,"r":4.6},{"g":"EP","id":7,"t":19,"r":5.1},{"g":"EP","id":7,"t":21,"r":5.6},{"g":"EP","id":7,"t":23,"r":6.2},{"g":"EP","id":7,"t":25,"r":7.4},{"g":"EP","id":7,"t":27,"r":8.9},{"g":"EP","id":7,"t":29,"r":10.2},{"g":"EP","id":7,"t":30,"r":10.5},{"g":"EP","id":7,"t":31.2,"r":10.8},
{"g":"EP","id":8,"t":0,"r":2.0},{"g":"EP","id":8,"t":6,"r":2.0},{"g":"EP","id":8,"t":7,"r":2.2},{"g":"EP","id":8,"t":9,"r":2.8},{"g":"EP","id":8,"t":11,"r":3.6},{"g":"EP","id":8,"t":13,"r":4.1},{"g":"EP","id":8,"t":15,"r":4.6},{"g":"EP","id":8,"t":17,"r":5.1},{"g":"EP","id":8,"t":19,"r":5.6},{"g":"EP","id":8,"t":21,"r":6.3},{"g":"EP","id":8,"t":23,"r":7.0},{"g":"EP","id":8,"t":25,"r":7.8},{"g":"EP","id":8,"t":27,"r":8.4},{"g":"EP","id":8,"t":28.5,"r":8.5},{"g":"EP","id":8,"t":30,"r":8.1},{"g":"EP","id":8,"t":31.6,"r":7.5},
{"g":"EP","id":9,"t":0,"r":3.15},{"g":"EP","id":9,"t":6,"r":3.15},{"g":"EP","id":9,"t":8,"r":3.9},{"g":"EP","id":9,"t":10,"r":4.8},{"g":"EP","id":9,"t":12,"r":5.8},{"g":"EP","id":9,"t":14,"r":7.0},{"g":"EP","id":9,"t":16,"r":8.2},{"g":"EP","id":9,"t":17,"r":8.8},{"g":"EP","id":9,"t":19,"r":9.9},{"g":"EP","id":9,"t":21,"r":10.4},{"g":"EP","id":9,"t":22,"r":10.2},{"g":"EP","id":9,"t":23,"r":10.7},{"g":"EP","id":9,"t":24.5,"r":11.2}
 ]},
 "facet": {"column": {"field": "g", "type": "nominal", "sort": ["CF","OF","IM","EM","EP"], "title": "time (h)", "header": {"labels": false, "titleOrient": "bottom", "titleFontSize": 23, "titleFontWeight": "normal", "titleColor": "black", "titleFont": "Liberation Sans", "titlePadding": 1}}},
 "spacing": 12,
 "bounds": "flush",
 "spec": {
   "width": 221, "height": 318,
   "mark": {"type": "line", "strokeWidth": 1.5},
   "encoding": {
     "x": {"field": "t", "type": "quantitative", "scale": {"domain": [-2.46, 50.3], "nice": false, "zero": false}, "axis": {"values": [0,10,20,30,40,50], "title": null, "labelFlush": false, "labelPadding": 3}},
     "y": {"field": "r", "type": "quantitative", "scale": {"domain": [-0.68, 19.46], "nice": false, "zero": false}, "axis": {"values": [0,5,10,15], "title": "respiration rate (µg CO₂-C h⁻¹ g⁻¹ soil)", "labelPadding": 5, "titlePadding": 11}},
     "detail": {"field": "id", "type": "nominal"},
     "color": {"field": "g", "type": "nominal", "scale": {"domain": ["CF","OF","IM","EM","EP"], "range": ["#FF0000","#FFA500","#8470FF","#5AA5EB","#8FC83C"]}, "legend": null}
   }
 }
}
]
}
